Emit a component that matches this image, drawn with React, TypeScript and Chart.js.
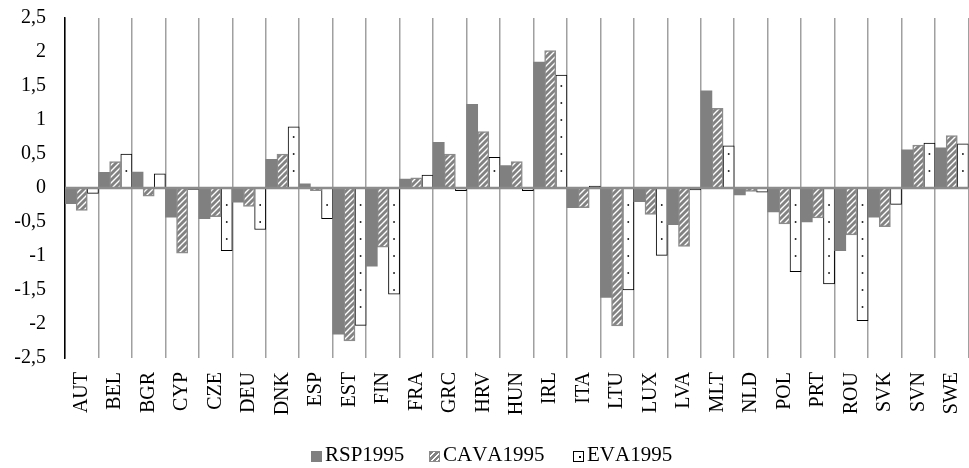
import React, { useEffect, useRef } from "react";
import { Chart, registerables } from "chart.js";

Chart.register(...registerables);

const categories = [
  "AUT", "BEL", "BGR", "CYP", "CZE", "DEU", "DNK", "ESP", "EST", "FIN",
  "FRA", "GRC", "HRV", "HUN", "IRL", "ITA", "LTU", "LUX", "LVA", "MLT",
  "NLD", "POL", "PRT", "ROU", "SVK", "SVN", "SWE",
];

const rsp1995 = [
  -0.23, 0.23, 0.235, -0.43, -0.45, -0.21, 0.42, 0.06, -2.15, -1.15,
  0.13, 0.67, 1.23, 0.33, 1.85, -0.29, -1.61, -0.2, -0.54, 1.43,
  -0.1, -0.35, -0.5, -0.92, -0.43, 0.56, 0.59,
];

const cava1995 = [
  -0.33, 0.39, -0.12, -0.96, -0.42, -0.27, 0.5, -0.04, -2.25, -0.87,
  0.15, 0.5, 0.83, 0.39, 2.02, -0.29, -2.03, -0.39, -0.86, 1.17,
  -0.05, -0.53, -0.44, -0.69, -0.57, 0.63, 0.77,
];

const eva1995 = [
  -0.08, 0.5, 0.21, -0.02, -0.92, -0.61, 0.9, -0.45, -2.02, -1.56,
  0.19, -0.04, 0.45, -0.04, 1.66, 0.03, -1.5, -0.99, -0.03, 0.62,
  -0.06, -1.23, -1.41, -1.95, -0.24, 0.66, 0.65,
];

const seriesNames = ["RSP1995", "CAVA1995", "EVA1995"];

const FONT = "'Liberation Serif', 'Times New Roman', serif";

function makeStripePattern(ctx: CanvasRenderingContext2D): CanvasPattern | string {
  const c = document.createElement("canvas");
  c.width = 6;
  c.height = 6;
  const g = c.getContext("2d");
  if (!g) return "#8c8c8c";
  g.fillStyle = "#828282";
  g.fillRect(0, 0, 6, 6);
  g.strokeStyle = "#ffffff";
  g.lineWidth = 1.4;
  g.beginPath();
  g.moveTo(-1, 7);
  g.lineTo(7, -1);
  g.moveTo(-4, 4);
  g.lineTo(4, -4);
  g.moveTo(2, 10);
  g.lineTo(10, 2);
  g.stroke();
  return ctx.createPattern(c, "repeat") || "#8c8c8c";
}

const overlayPlugin = {
  id: "overlay",
  afterDatasetsDraw(chart: any) {
    const { ctx, chartArea, scales } = chart;
    const y = scales.y;
    const y0 = y.getPixelForValue(0);
    const meta = chart.getDatasetMeta(2);
    ctx.save();
    ctx.fillStyle = "#000";
    meta.data.forEach((bar: any, i: number) => {
      const v = eva1995[i];
      const yEnd = y.getPixelForValue(v);
      const step = 17;
      if (v >= 0) {
        for (let yy = y0 - step; yy > yEnd + 3; yy -= step) {
          ctx.fillRect(bar.x - 0.8, yy - 0.8, 1.6, 1.6);
        }
      } else {
        for (let yy = y0 + step; yy < yEnd - 3; yy += step) {
          ctx.fillRect(bar.x - 0.8, yy - 0.8, 1.6, 1.6);
        }
      }
    });
    ctx.strokeStyle = "#8c8c8c";
    ctx.lineWidth = 2.5;
    ctx.beginPath();
    ctx.moveTo(chartArea.left, y0);
    ctx.lineTo(chartArea.right, y0);
    ctx.stroke();
    ctx.restore();
  },
};

const swatchBase: React.CSSProperties = {
  position: "absolute",
  top: 451,
  width: 11,
  height: 11,
  boxSizing: "border-box",
};

const textStyle: React.CSSProperties = {
  position: "absolute",
  top: 444,
  fontFamily: FONT,
  fontSize: 21,
  lineHeight: "21px",
  color: "#000",
  fontKerning: "none",
  whiteSpace: "nowrap",
};

export default function App() {
  const canvasRef = useRef<HTMLCanvasElement | null>(null);

  useEffect(() => {
    const canvas = canvasRef.current;
    if (!canvas) return;
    const ctx = canvas.getContext("2d");
    if (!ctx) return;
    const stripe = makeStripePattern(ctx);

    const chart = new Chart(ctx, {
      type: "bar",
      data: {
        labels: categories,
        datasets: [
          {
            label: seriesNames[0],
            data: rsp1995,
            backgroundColor: "#808080",
            borderWidth: 0,
            barPercentage: 1,
            categoryPercentage: 1,
          },
          {
            label: seriesNames[1],
            data: cava1995,
            backgroundColor: stripe as any,
            borderColor: "#8c8c8c",
            borderWidth: 1.5,
            barPercentage: 1,
            categoryPercentage: 1,
          },
          {
            label: seriesNames[2],
            data: eva1995,
            backgroundColor: "#ffffff",
            borderColor: "#000000",
            borderWidth: 1,
            barPercentage: 1,
            categoryPercentage: 1,
          },
        ],
      },
      options: {
        animation: false,
        responsive: true,
        maintainAspectRatio: false,
        layout: { padding: { top: 18, right: 14, bottom: 0, left: 0 } },
        plugins: {
          legend: { display: false },
          tooltip: { enabled: false },
        },
        scales: {
          x: {
            grid: {
              color: "#a0a0a0",
              lineWidth: 1.5,
              offset: true,
              drawTicks: false,
            },
            border: { display: false },
            ticks: {
              autoSkip: false,
              maxRotation: 90,
              minRotation: 90,
              padding: 14,
              color: "#000",
              font: { family: FONT, size: 20 },
            },
            afterFit: (s: any) => {
              s.height = 110;
            },
          },
          y: {
            min: -2.5,
            max: 2.5,
            grid: { display: false, drawTicks: false },
            border: { display: true, color: "#000", width: 1.5 },
            ticks: {
              stepSize: 0.5,
              padding: 19,
              color: "#000",
              font: { family: FONT, size: 20 },
              callback: (v: any) => String(Math.round(Number(v) * 10) / 10).replace(".", ","),
            },
            afterFit: (s: any) => {
              s.width = 65;
              s.paddingTop = 0;
              s.paddingBottom = 0;
            },
          },
        },
      },
      plugins: [overlayPlugin],
    });

    return () => chart.destroy();
  }, []);

  return (
    <div
      style={{
        position: "fixed",
        left: 0,
        top: 0,
        width: 969,
        height: 468,
        overflow: "hidden",
        background: "#fff",
      }}
    >
      <div style={{ position: "absolute", left: 0, top: 0, width: 990, height: 468 }}>
        <canvas ref={canvasRef} />
      </div>
      <span style={{ ...swatchBase, left: 311, background: "#808080" }} />
      <span style={{ ...textStyle, left: 325 }}>{seriesNames[0]}</span>
      <span
        style={{
          ...swatchBase,
          left: 429,
          border: "1px solid #8c8c8c",
          background:
            "repeating-linear-gradient(135deg, #828282 0px, #828282 2.5px, #ffffff 2.5px, #ffffff 4px)",
        }}
      />
      <span style={{ ...textStyle, left: 443 }}>{seriesNames[1]}</span>
      <span style={{ ...swatchBase, left: 573, border: "1px solid #000", background: "#fff" }}>
        <span
          style={{
            position: "absolute",
            left: 5,
            top: 4,
            width: 1.5,
            height: 1.5,
            background: "#000",
          }}
        />
      </span>
      <span style={{ ...textStyle, left: 587 }}>{seriesNames[2]}</span>
    </div>
  );
}
